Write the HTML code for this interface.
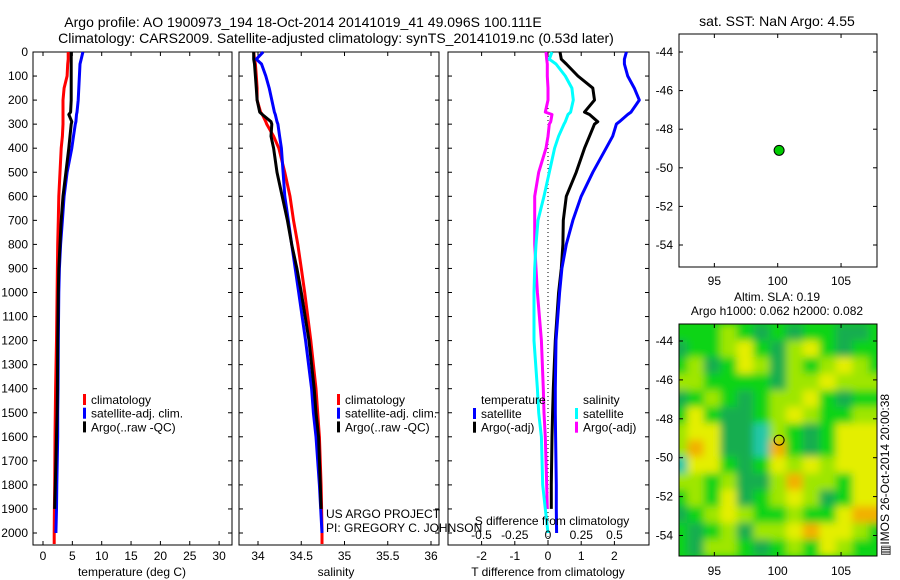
<!DOCTYPE html>
<html><head><meta charset="utf-8"><style>
html,body{margin:0;padding:0;background:#fff;}
svg{display:block;font-family:"Liberation Sans",sans-serif;}
text{font-size:12px;fill:#000;}
.big{font-size:14px;}
</style></head><body>
<svg id="c" width="900" height="580" viewBox="0 0 900 580" xmlns="http://www.w3.org/2000/svg">
<defs>
<filter id="bl" x="-10%" y="-10%" width="120%" height="120%"><feGaussianBlur stdDeviation="4"/></filter>
<clipPath id="mc"><rect x="679" y="324" width="198" height="232"/></clipPath>
</defs>
<text class="big" x="303" y="27" text-anchor="middle">Argo profile: AO 1900973_194 18-Oct-2014 20141019_41 49.096S 100.111E</text>
<text class="big" x="336" y="43" text-anchor="middle">Climatology: CARS2009. Satellite-adjusted climatology: synTS_20141019.nc (0.53d later)</text>
<g id="g"></g>
</svg>
<script>
const depths=[0,30,50,100,150,200,250,260,290,300,350,400,500,600,700,800,900,1000,1200,1400,1500,1600,1800,1900,2000,2050];
const tempClim=[4.3,4.3,4.2,4.1,3.6,3.4,3.4,3.4,3.4,3.4,3.3,3.1,2.9,2.7,2.6,2.5,2.45,2.4,2.3,2.15,2.1,2.05,2.0,1.95,1.9,1.9];
const tempArgo=[4.8,4.8,4.8,4.8,4.8,4.8,4.7,4.4,4.9,4.8,4.6,4.4,3.9,3.4,3.1,2.9,2.7,2.6,2.5,2.45,2.4,2.3,2.1,2.0,null,null];
const tempSat=[6.8,6.5,6.3,6.2,6.1,6.0,5.8,5.7,5.6,5.5,5.2,4.9,4.1,3.6,3.3,3.0,2.8,2.7,2.6,2.55,2.5,2.5,2.35,2.3,2.2,null];
const salClim=[33.95,33.96,33.97,33.98,33.99,33.99,34.03,34.05,34.09,34.10,34.18,34.24,34.31,34.37,34.41,34.46,34.50,34.54,34.61,34.67,34.69,34.71,34.73,34.735,34.74,34.74];
const salArgo=[33.95,33.95,33.96,33.97,33.98,33.99,34.02,34.05,34.15,34.16,34.15,34.18,34.22,34.28,34.34,34.39,34.45,34.50,34.59,34.65,34.67,34.70,34.72,34.73,null,null];
const salSat=[34.06,33.98,34.04,34.09,34.13,34.16,34.19,34.2,34.22,34.23,34.25,34.27,34.29,34.31,34.35,34.39,34.43,34.47,34.55,34.62,34.64,34.67,34.71,34.725,34.74,null];
const dTsat=[2.36,2.3,2.3,2.4,2.6,2.75,2.5,2.4,2.15,2.06,1.95,1.75,1.35,1.0,0.75,0.55,0.42,0.35,0.24,0.22,0.22,0.23,0.25,0.25,0.26,null];
const dTargo=[0.36,0.4,0.55,0.9,1.35,1.4,1.1,1.25,1.5,1.4,1.25,1.1,0.85,0.55,0.46,0.45,0.4,0.32,0.22,0.16,0.14,0.12,0.1,0.1,null,null];
const dSsat=[0.03,0.01,0.06,0.13,0.18,0.19,0.17,0.15,0.13,0.12,0.08,0.05,0.01,-0.03,-0.075,-0.09,-0.1,-0.105,-0.105,-0.08,-0.07,-0.05,-0.04,-0.02,0.0,null];
const dSargo=[-0.015,-0.01,-0.005,-0.005,0.0,0.0,-0.02,0.03,0.02,0.01,0.0,-0.015,-0.07,-0.1,-0.1,-0.1,-0.09,-0.08,-0.05,-0.035,-0.03,-0.02,-0.01,-0.005,null,null];
const tTicks=[0,5,10,15,20,25,30];
const sTicks=[34,34.5,35,35.5,36];
const dTTicks=[-2,-1,0,1,2];
const dSTicks=[-0.5,-0.25,0,0.25,0.5];
const depthTicks=[0,100,200,300,400,500,600,700,800,900,1000,1100,1200,1300,1400,1500,1600,1700,1800,1900,2000];
const latTicks=[-44,-46,-48,-50,-52,-54];
const lonTicks=[95,100,105];
const argoLon=100.111, argoLat=-49.096;
const slaRows=[
"ggglgdgdggddg","dgglygdlygdgg","gldgyldlglylg","llggggdllylll","dglgdgllygdgg","gygddglylggll","lyyddtlgdgyyy","loyddtogdgyyy","tyygdgylylyyy","llglddlollgyy","glgydglyldgyy","dglylgglggyoo","gdgldllyoyylg","gdllgdglgylgg"];
const colorOf={t:"#20c8a8",d:"#14ad50",g:"#0ed414",l:"#9fe600",y:"#e4ee00",o:"#f2b000"};

const g=document.getElementById('g');
const NS="http://www.w3.org/2000/svg";
function el(tag,attrs,parent){const e=document.createElementNS(NS,tag);for(const k in attrs)e.setAttribute(k,attrs[k]);(parent||g).appendChild(e);return e;}
function txt(x,y,s,anchor){const t=el('text',{x:x,y:y,'text-anchor':anchor||'start'});t.textContent=s;return t;}
const yD=d=>52+d*0.2405;
const xT=v=>43+v*5.87;
const xS=v=>258+(v-34)*86.5;
const xdT=v=>548+v*33.2;
const xdS=v=>548+v*133;
const xLon=v=>777.7+(v-100)*12.67;
const yLat1=v=>52+(-44-v)*19.3;
const yLat2=v=>341+(-44-v)*19.45;

function profile(vals,xf,color,name){
  let d="";let pen=false;
  vals.forEach((v,i)=>{if(v===null){pen=false;return;}d+=(pen?"L":"M")+xf(v).toFixed(1)+","+Math.min(544,yD(depths[i])).toFixed(1);pen=true;});
  const p=el('path',{d:d,fill:'none',stroke:color,'stroke-width':3,'stroke-linejoin':'round'});
  
  
}
function frame(x0,x1,name){
  const r=el('rect',{x:x0,y:52,width:x1-x0,height:493,fill:'none',stroke:'#000','stroke-width':1});
  
  
  depthTicks.forEach(d=>{el('line',{x1:x0,x2:x0+4,y1:yD(d),y2:yD(d),stroke:'#000'});el('line',{x1:x1,x2:x1-4,y1:yD(d),y2:yD(d),stroke:'#000'});});
}
frame(33,232,'temperature-panel');
depthTicks.forEach(d=>{const t=txt(28,yD(d)+4,String(d),'end');});
tTicks.forEach(v=>{el('line',{x1:xT(v),x2:xT(v),y1:52,y2:56,stroke:'#000'});el('line',{x1:xT(v),x2:xT(v),y1:545,y2:541,stroke:'#000'});const t=txt(xT(v),560,String(v),'middle');});
txt(132,576,'temperature (deg C)','middle');
profile(tempClim,xT,'#f00','temp-climatology-line');
profile(tempSat,xT,'#00f','temp-satellite-line');
profile(tempArgo,xT,'#000','temp-argo-line');
function legend(x,y,items,name){items.forEach((it,i)=>{const r=el('rect',{x:x,y:y+i*13.7-10,width:3,height:11,fill:it[1]});const t=txt(x+8,y+i*13.7,it[0]);});}
legend(83,404,[['climatology','#f00'],['satellite-adj. clim.','#00f'],['Argo(..raw -QC)','#000']],'temp-legend');
frame(239,439,'salinity-panel');
sTicks.forEach(v=>{el('line',{x1:xS(v),x2:xS(v),y1:52,y2:56,stroke:'#000'});el('line',{x1:xS(v),x2:xS(v),y1:545,y2:541,stroke:'#000'});const t=txt(xS(v),560,String(v),'middle');});
txt(336,576,'salinity','middle');
profile(salClim,xS,'#f00','sal-climatology-line');
profile(salSat,xS,'#00f','sal-satellite-line');
profile(salArgo,xS,'#000','sal-argo-line');
legend(337,404,[['climatology','#f00'],['satellite-adj. clim.','#00f'],['Argo(..raw -QC)','#000']],'sal-legend');
txt(326,518,'US ARGO PROJECT');
txt(326,532,'PI: GREGORY C. JOHNSON');
frame(448,649,'difference-panel');
dTTicks.forEach(v=>{el('line',{x1:xdT(v),x2:xdT(v),y1:52,y2:56,stroke:'#000'});el('line',{x1:xdT(v),x2:xdT(v),y1:545,y2:541,stroke:'#000'});const t=txt(xdT(v),560,String(v),'middle');});
el('line',{x1:xdT(0),x2:xdT(0),y1:52,y2:545,stroke:'#000','stroke-dasharray':'1,3'});
profile(dSargo,xdS,'#f0f','s-diff-argo-line');
profile(dSsat,xdS,'#0ff','s-diff-satellite-line');
profile(dTargo,xdT,'#000','t-diff-argo-line');
profile(dTsat,xdT,'#00f','t-diff-satellite-line');
txt(481,404,'temperature');
txt(583,404,'salinity');
legend(473,418,[['satellite','#00f'],['Argo(-adj)','#000']],'t-diff-legend');
legend(575,418,[['satellite','#0ff'],['Argo(-adj)','#f0f']],'s-diff-legend');
txt(552,525,'S difference from climatology','middle');
dSTicks.forEach(v=>{const t=txt(xdS(v),539,String(v),'middle');});
txt(548,576,'T difference from climatology','middle');
const st=txt(777,26,'sat. SST: NaN Argo: 4.55','middle');
st.setAttribute('class','big');

const m1=el('rect',{x:679,y:34,width:198,height:233,fill:'#fff',stroke:'#000'});


latTicks.forEach(v=>{el('line',{x1:679,x2:683,y1:yLat1(v),y2:yLat1(v),stroke:'#000'});el('line',{x1:877,x2:873,y1:yLat1(v),y2:yLat1(v),stroke:'#000'});const t=txt(673,yLat1(v)+4,String(v),'end');});
lonTicks.forEach(v=>{el('line',{x1:xLon(v),x2:xLon(v),y1:34,y2:38,stroke:'#000'});el('line',{x1:xLon(v),x2:xLon(v),y1:267,y2:263,stroke:'#000'});const t=txt(xLon(v),285,String(v),'middle');});
const p1=el('circle',{cx:xLon(argoLon),cy:yLat1(argoLat),r:5,fill:'#0c0',stroke:'#000'});


txt(777,301,'Altim. SLA: 0.19','middle');
txt(777,315,'Argo h1000: 0.062 h2000: 0.082','middle');
const mg=el('g',{'clip-path':'url(#mc)'});
el('rect',{x:679,y:324,width:198,height:232,fill:'#0ed414'},mg);
const hb=el('g',{filter:'url(#bl)'},mg);
const cw=198/12, ch=232/14;
slaRows.forEach((row,ri)=>{for(let ci=0;ci<13;ci++){const c=row[ci]||'g';const r=el('rect',{x:679+(ci-0.5)*cw,y:324+ri*ch,width:cw+0.5,height:ch+0.5,fill:colorOf[c]},hb);}});
const m2=el('rect',{x:679,y:324,width:198,height:232,fill:'none',stroke:'#000'});


latTicks.forEach(v=>{el('line',{x1:679,x2:683,y1:yLat2(v),y2:yLat2(v),stroke:'#000'});el('line',{x1:877,x2:873,y1:yLat2(v),y2:yLat2(v),stroke:'#000'});const t=txt(673,yLat2(v)+4,String(v),'end');});
lonTicks.forEach(v=>{el('line',{x1:xLon(v),x2:xLon(v),y1:324,y2:328,stroke:'#000'});el('line',{x1:xLon(v),x2:xLon(v),y1:556,y2:552,stroke:'#000'});const t=txt(xLon(v),575,String(v),'middle');});
const p2=el('circle',{cx:xLon(argoLon),cy:yLat2(argoLat),r:5,fill:'none',stroke:'#000'});


const vt=txt(0,0,'▥IMOS 26-Oct-2014 20:00:38');
vt.setAttribute('transform','translate(889,556) rotate(-90)');


</script>
</body></html>
